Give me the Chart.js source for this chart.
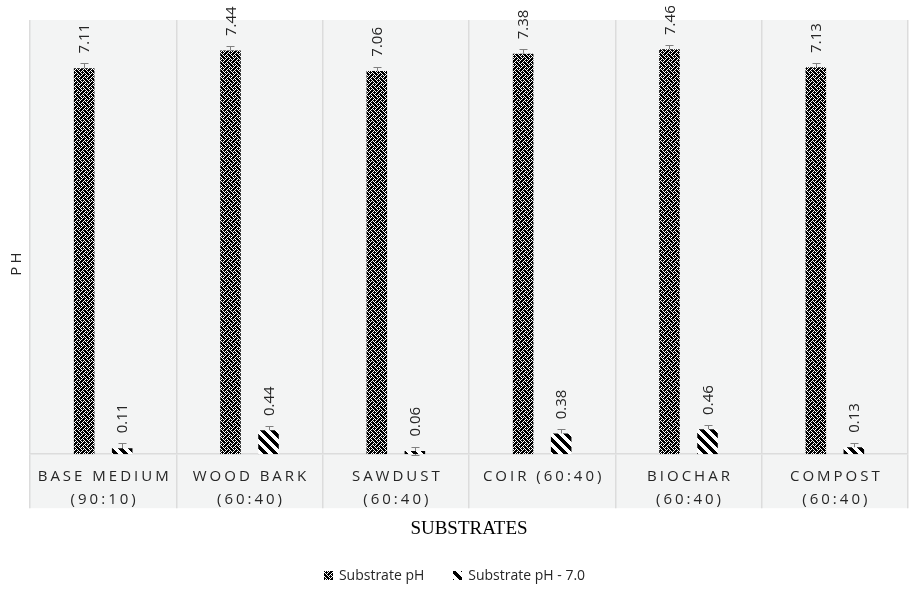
<!DOCTYPE html>
<html>
<head>
<meta charset="utf-8">
<script src="https://cdn.jsdelivr.net/npm/chart.js@4.4.1/dist/chart.umd.min.js"></script>
<style>
  html, body { margin: 0; padding: 0; background: #fff; }
  #wrap { width: 909px; height: 594px; position: relative; }
</style>
</head>
<body>
<div id="wrap"><canvas id="c"></canvas></div>
<script>
'use strict';

/* ---- data ---- */
const CATEGORIES = [
  ['BASE MEDIUM', '(90:10)'],
  ['WOOD BARK', '(60:40)'],
  ['SAWDUST', '(60:40)'],
  ['COIR (60:40)'],
  ['BIOCHAR', '(60:40)'],
  ['COMPOST', '(60:40)']
];
const SERIES_NAMES = ['Substrate pH', 'Substrate pH - 7.0'];
const PH_VALUES  = [7.11, 7.44, 7.06, 7.38, 7.46, 7.13];
const PH_MINUS_7 = [0.11, 0.44, 0.06, 0.38, 0.46, 0.13];
const PH_ERRORS  = [0.09, 0.08, 0.08, 0.08, 0.08, 0.08];
const X_TITLE = 'SUBSTRATES';
const Y_TITLE = 'PH';

/* ---- look ---- */
const FONT = '"Open Sans", "Noto Sans", sans-serif';
const BG = '#f3f4f4';
const GRID = '#dcdcdc';
const TEXT = '#262626';
const TICK_LEN = 54;

const canvas = document.getElementById('c');
const ctx0 = canvas.getContext('2d');

// 8x8 weave tile (black ground, white weave) for the first series
const WEAVE_ROWS = [
  '01110111',
  '10101011',
  '11011101',
  '10111010',
  '01110111',
  '11101010',
  '11011101',
  '10101110'
];
function weavePattern() {
  const t = document.createElement('canvas');
  t.width = 8; t.height = 8;
  const c = t.getContext('2d');
  c.fillStyle = '#fff'; c.fillRect(0, 0, 8, 8);
  c.fillStyle = '#000';
  WEAVE_ROWS.forEach((row, y) => {
    [...row].forEach((b, x) => { if (b === '1') c.fillRect(x, y, 1, 1); });
  });
  return ctx0.createPattern(t, 'repeat');
}
// wide "\" diagonal stripes for the second series
function stripePattern() {
  const n = 10;
  const t = document.createElement('canvas');
  t.width = n; t.height = n;
  const c = t.getContext('2d');
  c.fillStyle = '#fff'; c.fillRect(0, 0, n, n);
  c.fillStyle = '#000';
  for (let y = 0; y < n; y++) {
    for (let x = 0; x < n; x++) {
      if ((((x - y) % n) + n) % n < 5) c.fillRect(x, y, 1, 1);
    }
  }
  return ctx0.createPattern(t, 'repeat');
}

/* ---- plugins ---- */
const background = {
  id: 'background',
  beforeDraw(chart) {
    const { ctx, chartArea: a, scales: { x } } = chart;
    ctx.save();
    ctx.fillStyle = BG;
    ctx.fillRect(a.left - 1, a.top, a.right - a.left + 1, x.top + TICK_LEN - a.top);
    ctx.restore();
  }
};

const errorBars = {
  id: 'errorBars',
  beforeDatasetsDraw(chart) {
    const { ctx, scales: { y } } = chart;
    ctx.save();
    ctx.strokeStyle = '#808080';
    ctx.lineWidth = 1;
    chart.data.datasets.forEach((ds, i) => {
      chart.getDatasetMeta(i).data.forEach((bar, j) => {
        const v = ds.data[j], e = ds.errors[j];
        const yt = Math.round(y.getPixelForValue(v + e)) + 0.5;
        const yb = Math.round(y.getPixelForValue(v - e)) + 0.5;
        const x = Math.round(bar.x) + 0.5;
        ctx.beginPath();
        ctx.moveTo(x, yt); ctx.lineTo(x, yb);
        ctx.moveTo(x - 4, yt); ctx.lineTo(x + 4, yt);
        ctx.moveTo(x - 4, yb); ctx.lineTo(x + 4, yb);
        ctx.stroke();
      });
    });
    ctx.restore();
  }
};

const valueLabels = {
  id: 'valueLabels',
  afterDatasetsDraw(chart) {
    const { ctx, scales: { y } } = chart;
    ctx.save();
    ctx.fillStyle = TEXT;
    ctx.font = '15px ' + FONT;
    ctx.textAlign = 'left';
    ctx.textBaseline = 'middle';
    chart.data.datasets.forEach((ds, i) => {
      chart.getDatasetMeta(i).data.forEach((bar, j) => {
        const v = ds.data[j], e = ds.errors[j];
        const yt = y.getPixelForValue(v + e) - 10;
        ctx.save();
        ctx.translate(bar.x + 1, yt);
        ctx.rotate(-Math.PI / 2);
        ctx.fillText(v.toFixed(2), 0, 0);
        ctx.restore();
      });
    });
    ctx.restore();
  }
};

// spaced category labels, y title and legend
const textLayer = {
  id: 'textLayer',
  afterDraw(chart) {
    const { ctx, chartArea: a, scales: { x } } = chart;
    const ls = 3;
    ctx.save();
    ctx.fillStyle = TEXT;
    ctx.font = '15px ' + FONT;
    ctx.letterSpacing = ls + 'px';
    ctx.textAlign = 'center';
    ctx.textBaseline = 'middle';
    CATEGORIES.forEach((lines, i) => {
      const cx = x.getPixelForTick(i) + ls / 2;
      lines.forEach((t, k) => ctx.fillText(t, cx, a.bottom + 23 + k * 23));
    });
    // y title
    ctx.save();
    ctx.translate(17, (a.top + x.top + TICK_LEN) / 2);
    ctx.rotate(-Math.PI / 2);
    ctx.fillText(Y_TITLE, ls / 2, 0);
    ctx.restore();
    ctx.restore();

    // legend
    ctx.save();
    ctx.font = '14px ' + FONT;
    ctx.textAlign = 'left';
    ctx.textBaseline = 'middle';
    const box = 9, gap = 6, itemGap = 29, ly = 576;
    const widths = chart.data.datasets.map(ds => box + gap + ctx.measureText(ds.label).width);
    const total = widths.reduce((s, w) => s + w, 0) + itemGap * (widths.length - 1);
    let lx = chart.width / 2 - total / 2;
    chart.data.datasets.forEach((ds, i) => {
      ctx.fillStyle = ds.backgroundColor;
      ctx.fillRect(Math.round(lx), ly - 5, box, box);
      ctx.fillStyle = TEXT;
      ctx.fillText(ds.label, lx + box + gap, ly);
      lx += widths[i] + itemGap;
    });
    ctx.restore();
  }
};

/* ---- chart ---- */
new Chart(canvas, {
  type: 'bar',
  data: {
    labels: CATEGORIES,
    datasets: [
      { label: SERIES_NAMES[0], data: PH_VALUES, errors: PH_ERRORS,
        backgroundColor: weavePattern(), borderWidth: 0 },
      { label: SERIES_NAMES[1], data: PH_MINUS_7, errors: PH_ERRORS,
        backgroundColor: stripePattern(), borderWidth: 0 }
    ]
  },
  options: {
    responsive: true,
    maintainAspectRatio: false,
    animation: false,
    categoryPercentage: 0.52,
    barPercentage: 0.54,
    layout: { padding: { left: 30, right: 1, top: 20, bottom: 54 } },
    plugins: { legend: { display: false }, tooltip: { enabled: false } },
    scales: {
      x: {
        grid: { color: GRID, lineWidth: 1.5, tickLength: TICK_LEN, offset: true, drawTicks: true },
        border: { color: GRID, width: 1.5 },
        ticks: { display: false },
        title: { display: true, text: X_TITLE, color: '#000',
                 font: { family: '"Liberation Serif", "Times New Roman", serif', size: 19 },
                 padding: { top: 9, bottom: 0 } }
      },
      y: { display: false, min: 0, max: 8 }
    }
  },
  plugins: [background, errorBars, valueLabels, textLayer]
});
</script>
</body>
</html>
